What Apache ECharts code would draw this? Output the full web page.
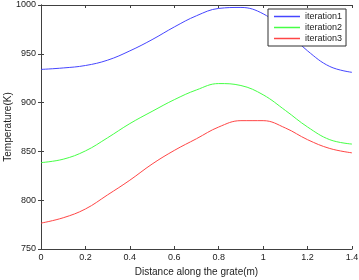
<!DOCTYPE html>
<html>
<head>
<meta charset="utf-8">
<script src="https://cdn.jsdelivr.net/npm/echarts@6/dist/echarts.min.js"></script>
<style>
  html, body { margin: 0; padding: 0; background: #fff; }
  #chart { width: 359px; height: 280px; }
</style>
</head>
<body>
<div id="chart"></div>
<script>
const distance = [0, 0.1, 0.2, 0.3, 0.4, 0.5, 0.6, 0.7, 0.8, 0.9, 1.0, 1.1, 1.2, 1.3, 1.4];
const iteration1 = [934, 935.5, 938, 943.5, 953, 964.5, 977.5, 989, 996.5, 997.5, 991, 974, 953, 937, 931];
const iteration2 = [838.5, 842, 850.5, 864, 878.5, 891, 903, 913, 919.5, 917.5, 908, 892, 875, 862, 857.5];
const iteration3 = [776.5, 782, 791, 805.5, 820.5, 837, 851, 863, 875, 881.5, 881.5, 874, 862, 853, 848.5];
const seriesNames = ["iteration1", "iteration2", "iteration3"];
const seriesColors = ["#4646ff", "#46ff46", "#ff4646"];

const chart = echarts.init(document.getElementById("chart"));
const font = "Liberation Sans, Arial, sans-serif";
const axisLine = { show: true, lineStyle: { color: "#404040", width: 1 } };
const axisTick = { show: true, inside: true, length: 3, lineStyle: { color: "#404040" } };

const xBase = { type: "value", min: 0, max: 1.4, interval: 0.2, splitLine: { show: false }, axisLine, axisTick };
const yBase = { type: "value", min: 750, max: 1000, interval: 50, splitLine: { show: false }, axisLine, axisTick };

chart.setOption({
  backgroundColor: "#fff",
  animation: false,
  grid: { left: 41, right: 7, top: 5, bottom: 31, containLabel: false, outerBoundsMode: "none" },
  legend: {
    data: seriesNames,
    orient: "vertical",
    left: 268,
    top: 9,
    padding: [3, 4, 3, 6],
    itemGap: 2,
    itemWidth: 26,
    itemHeight: 1.5,
    icon: "rect",
    borderColor: "#303030",
    borderWidth: 1,
    backgroundColor: "#fff",
    textStyle: { fontFamily: font, fontSize: 9, color: "#222" }
  },
  xAxis: [
    {
      ...xBase,
      position: "bottom",
      name: "Distance along the grate(m)",
      nameLocation: "middle",
      nameGap: 18,
      nameMoveOverlap: false,
      nameTextStyle: { fontFamily: font, fontSize: 10, color: "#222" },
      axisLabel: { fontFamily: font, fontSize: 9, color: "#222", margin: 4 }
    },
    { ...xBase, position: "top", axisLabel: { show: false } }
  ],
  yAxis: [
    {
      ...yBase,
      position: "left",
      name: "Temperature(K)",
      nameLocation: "middle",
      nameGap: 28,
      nameMoveOverlap: false,
      nameTextStyle: { fontFamily: font, fontSize: 10, color: "#222" },
      axisLabel: { fontFamily: font, fontSize: 9, color: "#222", margin: 5, formatter: (v) => String(v) }
    },
    { ...yBase, position: "right", axisLabel: { show: false } }
  ],
  series: [iteration1, iteration2, iteration3].map((vals, i) => ({
    name: seriesNames[i],
    type: "line",
    smooth: 0.4,
    symbol: "none",
    data: distance.map((d, j) => [d, vals[j]]),
    lineStyle: { width: 1, color: seriesColors[i] },
    itemStyle: { color: seriesColors[i] }
  }))
});
</script>
</body>
</html>
